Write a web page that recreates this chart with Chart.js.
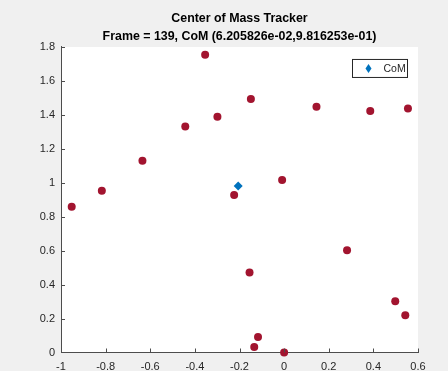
<!DOCTYPE html>
<html>
<head>
<meta charset="utf-8">
<script src="https://cdn.jsdelivr.net/npm/chart.js@4.4.1/dist/chart.umd.min.js"></script>
<style>
  html, body { margin: 0; padding: 0; background: #f0f0f0; }
  #wrap { width: 448px; height: 371px; }
</style>
</head>
<body>
<div id="wrap"><canvas id="comChart"></canvas></div>
<script>
// tracked particle positions
var particleX = [-0.354, -0.149, 0.145, 0.386, 0.555, -0.299, -0.443, -0.635, -0.817, -0.952,
                 -0.224, -0.009, 0.282, -0.155, 0.498, 0.543, -0.117, -0.134, 0.0];
var particleY = [1.754, 1.493, 1.448, 1.423, 1.438, 1.389, 1.332, 1.130, 0.953, 0.859,
                 0.928, 1.016, 0.602, 0.472, 0.302, 0.219, 0.091, 0.032, 0.0];
var comX = [-0.206];
var comY = [0.981];
var xTickLabels = ['-1', '-0.8', '-0.6', '-0.4', '-0.2', '0', '0.2', '0.4', '0.6'];
var yTickLabels = ['0', '0.2', '0.4', '0.6', '0.8', '1', '1.2', '1.4', '1.6', '1.8'];
var titleLines = ['Center of Mass Tracker', 'Frame = 139, CoM (6.205826e-02,9.816253e-01)'];

var fontFam = '"Liberation Sans", Arial, Helvetica, sans-serif';
var axisColor = '#4d4d4d';

function toPoints(xs, ys) {
  var pts = [];
  for (var i = 0; i < xs.length; i++) pts.push({x: xs[i], y: ys[i]});
  return pts;
}

// gray figure, white axes area, inward ticks, legend box
var matlabLook = {
  id: 'matlabLook',
  beforeDraw: function (chart) {
    var c = chart.ctx, a = chart.chartArea;
    c.save();
    c.fillStyle = '#f0f0f0';
    c.fillRect(0, 0, chart.width, chart.height);
    c.fillStyle = '#ffffff';
    c.fillRect(a.left, a.top, a.right - a.left, a.bottom - a.top);
    c.restore();
  },
  afterDraw: function (chart) {
    var c = chart.ctx, a = chart.chartArea;
    var xs = chart.scales.x, ys = chart.scales.y;
    c.save();
    c.strokeStyle = axisColor;
    c.lineWidth = 1;
    c.beginPath();
    for (var i = 0; i < xTickLabels.length; i++) {
      var px = Math.round(xs.getPixelForValue(parseFloat(xTickLabels[i]))) + 0.5;
      c.moveTo(px, a.bottom);
      c.lineTo(px, a.bottom - 4);
    }
    for (var j = 0; j < yTickLabels.length; j++) {
      var py = Math.round(ys.getPixelForValue(parseFloat(yTickLabels[j]))) + 0.5;
      c.moveTo(a.left, py);
      c.lineTo(a.left + 4, py);
    }
    c.stroke();

    // legend
    var bx = a.right - 65.5, by = a.top + 12.5, bw = 55, bh = 18;
    c.fillStyle = '#ffffff';
    c.fillRect(bx, by, bw, bh);
    c.strokeStyle = '#262626';
    c.strokeRect(bx, by, bw, bh);
    var dx = bx + 16, dy = by + bh / 2;
    c.fillStyle = '#0072bd';
    c.beginPath();
    c.moveTo(dx, dy - 4.5);
    c.lineTo(dx + 3, dy);
    c.lineTo(dx, dy + 4.5);
    c.lineTo(dx - 3, dy);
    c.closePath();
    c.fill();
    c.fillStyle = '#262626';
    c.font = '10.5px ' + fontFam;
    c.textBaseline = 'middle';
    c.textAlign = 'left';
    c.fillText('CoM', bx + 31, dy + 0.5);
    c.restore();
  }
};

var ctx = document.getElementById('comChart').getContext('2d');
var chart = new Chart(ctx, {
  type: 'scatter',
  data: {
    datasets: [{
      label: 'particles',
      data: toPoints(particleX, particleY),
      backgroundColor: 'rgb(162, 20, 47)',
      borderColor: 'rgb(162, 20, 47)',
      pointRadius: 4,
      pointBorderWidth: 0,
      clip: false
    }, {
      label: 'CoM',
      data: toPoints(comX, comY),
      pointStyle: 'rectRot',
      backgroundColor: '#0072bd',
      borderColor: '#0072bd',
      pointRadius: 4.5,
      pointBorderWidth: 0,
      clip: false
    }]
  },
  plugins: [matlabLook],
  options: {
    responsive: true,
    maintainAspectRatio: false,
    animation: false,
    layout: {padding: {left: 0, right: 30, top: 0, bottom: 0}},
    plugins: {
      legend: {display: false},
      tooltip: {enabled: false},
      title: {
        display: true,
        fullSize: false,
        text: titleLines,
        color: '#000000',
        font: {family: fontFam, size: 12.4, weight: 'bold', lineHeight: 1.45},
        padding: {top: 10, bottom: 1}
      }
    },
    scales: {
      x: {
        type: 'linear',
        min: -1,
        max: 0.6,
        afterFit: function (s) { s.height = 18.5; },
        afterBuildTicks: function (s) {
          s.ticks = xTickLabels.map(function (t) { return {value: parseFloat(t)}; });
        },
        ticks: {
          color: '#262626',
          padding: 8,
          maxRotation: 0,
          font: {family: fontFam, size: 11},
          callback: function (v, i) { return xTickLabels[i]; }
        },
        grid: {display: false, drawTicks: false},
        border: {display: true, color: axisColor, width: 1}
      },
      y: {
        type: 'linear',
        min: 0,
        max: 1.8,
        afterFit: function (s) { s.width = 61; },
        afterBuildTicks: function (s) {
          s.ticks = yTickLabels.map(function (t) { return {value: parseFloat(t)}; });
        },
        ticks: {
          color: '#262626',
          padding: 6,
          font: {family: fontFam, size: 11},
          callback: function (v, i) { return yTickLabels[i]; }
        },
        grid: {display: false, drawTicks: false},
        border: {display: true, color: axisColor, width: 1}
      }
    }
  }
});
</script>
</body>
</html>
